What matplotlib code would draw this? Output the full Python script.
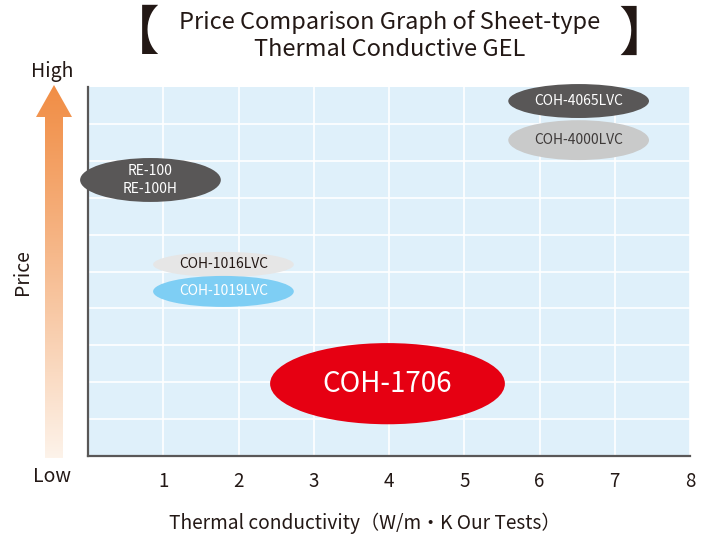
import matplotlib
matplotlib.use("Agg")
import matplotlib.pyplot as plt
import numpy as np
from matplotlib.patches import Ellipse, Polygon

plt.rcParams['font.family'] = ['Noto Sans CJK JP', 'DejaVu Sans']

# ---- data ----
products = ["COH-4065LVC", "COH-4000LVC", "RE-100\nRE-100H", "COH-1016LVC", "COH-1019LVC", "COH-1706"]
conductivity = [6.52, 6.52, 0.83, 1.80, 1.80, 3.98]
price = [9.62, 8.56, 7.48, 5.19, 4.46, 1.96]
x_ticks = [1, 2, 3, 4, 5, 6, 7, 8]
x_tick_labels = ["1", "2", "3", "4", "5", "6", "7", "8"]

# ---- styles ----
ell_w = [1.87, 1.87, 1.87, 1.87, 1.87, 3.12]
ell_h = [0.92, 1.08, 1.19, 0.68, 0.84, 2.20]
face = ["#595757", "#c9caca", "#595757", "#e6e6e6", "#7ecef4", "#e60012"]
txtc = ["white", "#3e3a39", "white", "#231815", "white", "white"]
fsz = [10, 10, 10, 10, 10, 20]

W, H = 707, 535
fig = plt.figure(figsize=(W / 100, H / 100), dpi=100)
ax = fig.add_axes([88 / W, (H - 456) / H, (690 - 88) / W, (456 - 87) / H])
ax.set_xlim(0, 8)
ax.set_ylim(0, 10)
ax.set_facecolor("#dff0fa")
ax.set_xticks(x_ticks)
ax.set_xticklabels(x_tick_labels, fontsize=13.5, color="#231815")
ax.set_yticks(np.arange(1, 10))
ax.set_yticklabels([])
ax.tick_params(length=0, pad=11)
ax.grid(True, color="white", linewidth=1.2)
ax.set_axisbelow(True)
for s in ["top", "right"]:
    ax.spines[s].set_visible(False)
for s in ["left", "bottom"]:
    ax.spines[s].set_color("#595757")
    ax.spines[s].set_linewidth(1.6)

for i, name in enumerate(products):
    e = Ellipse((conductivity[i], price[i]), ell_w[i], ell_h[i], facecolor=face[i],
                edgecolor="none", zorder=3, clip_on=False)
    ax.add_patch(e)
    ax.text(conductivity[i], price[i], name, ha="center", va="center", color=txtc[i],
            fontsize=fsz[i], zorder=4, linespacing=1.3)

# ---- overlay (pixel coords) ----
ov = fig.add_axes([0, 0, 1, 1], zorder=-1)
ov.set_xlim(0, W)
ov.set_ylim(H, 0)
ov.axis("off")
ov.patch.set_alpha(0)

arrow = Polygon([(45, 458), (45, 117), (36, 117), (54, 85), (72, 117), (63, 117), (63, 458)],
                closed=True, facecolor="none", edgecolor="none")
ov.add_patch(arrow)
t = np.linspace(0, 1, 256)[:, None]
top = np.array([241, 142, 70]) / 255
bot = np.array([253, 243, 234]) / 255
grad = top[None, None, :] * (1 - t[..., None] ** 1.1) + bot[None, None, :] * (t[..., None] ** 1.1)
grad = np.repeat(grad, 2, axis=1)
im = ov.imshow(grad, extent=(30, 80, 458, 85), aspect="auto", zorder=1)
im.set_clip_path(arrow)

ov.text(52, 72, "High", ha="center", va="center", fontsize=14, color="#231815")
ov.text(52, 477, "Low", ha="center", va="center", fontsize=14, color="#231815")
ov.text(22, 272, "Price", ha="center", va="center", fontsize=14, color="#231815", rotation=90)
ov.text(365, 523, "Thermal conductivity（W/m・K Our Tests）", ha="center", va="center",
        fontsize=13.8, color="#231815")
ov.text(390, 22, "Price Comparison Graph of Sheet-type", ha="center", va="center", fontsize=17, color="#231815")
ov.text(390, 50, "Thermal Conductive GEL", ha="center", va="center", fontsize=17, color="#231815")
ov.text(133, 35, "【", ha="center", va="center", fontsize=38, color="#231815")
ov.text(645, 35, "】", ha="center", va="center", fontsize=38, color="#231815")

fig.savefig("out.png", dpi=100)
